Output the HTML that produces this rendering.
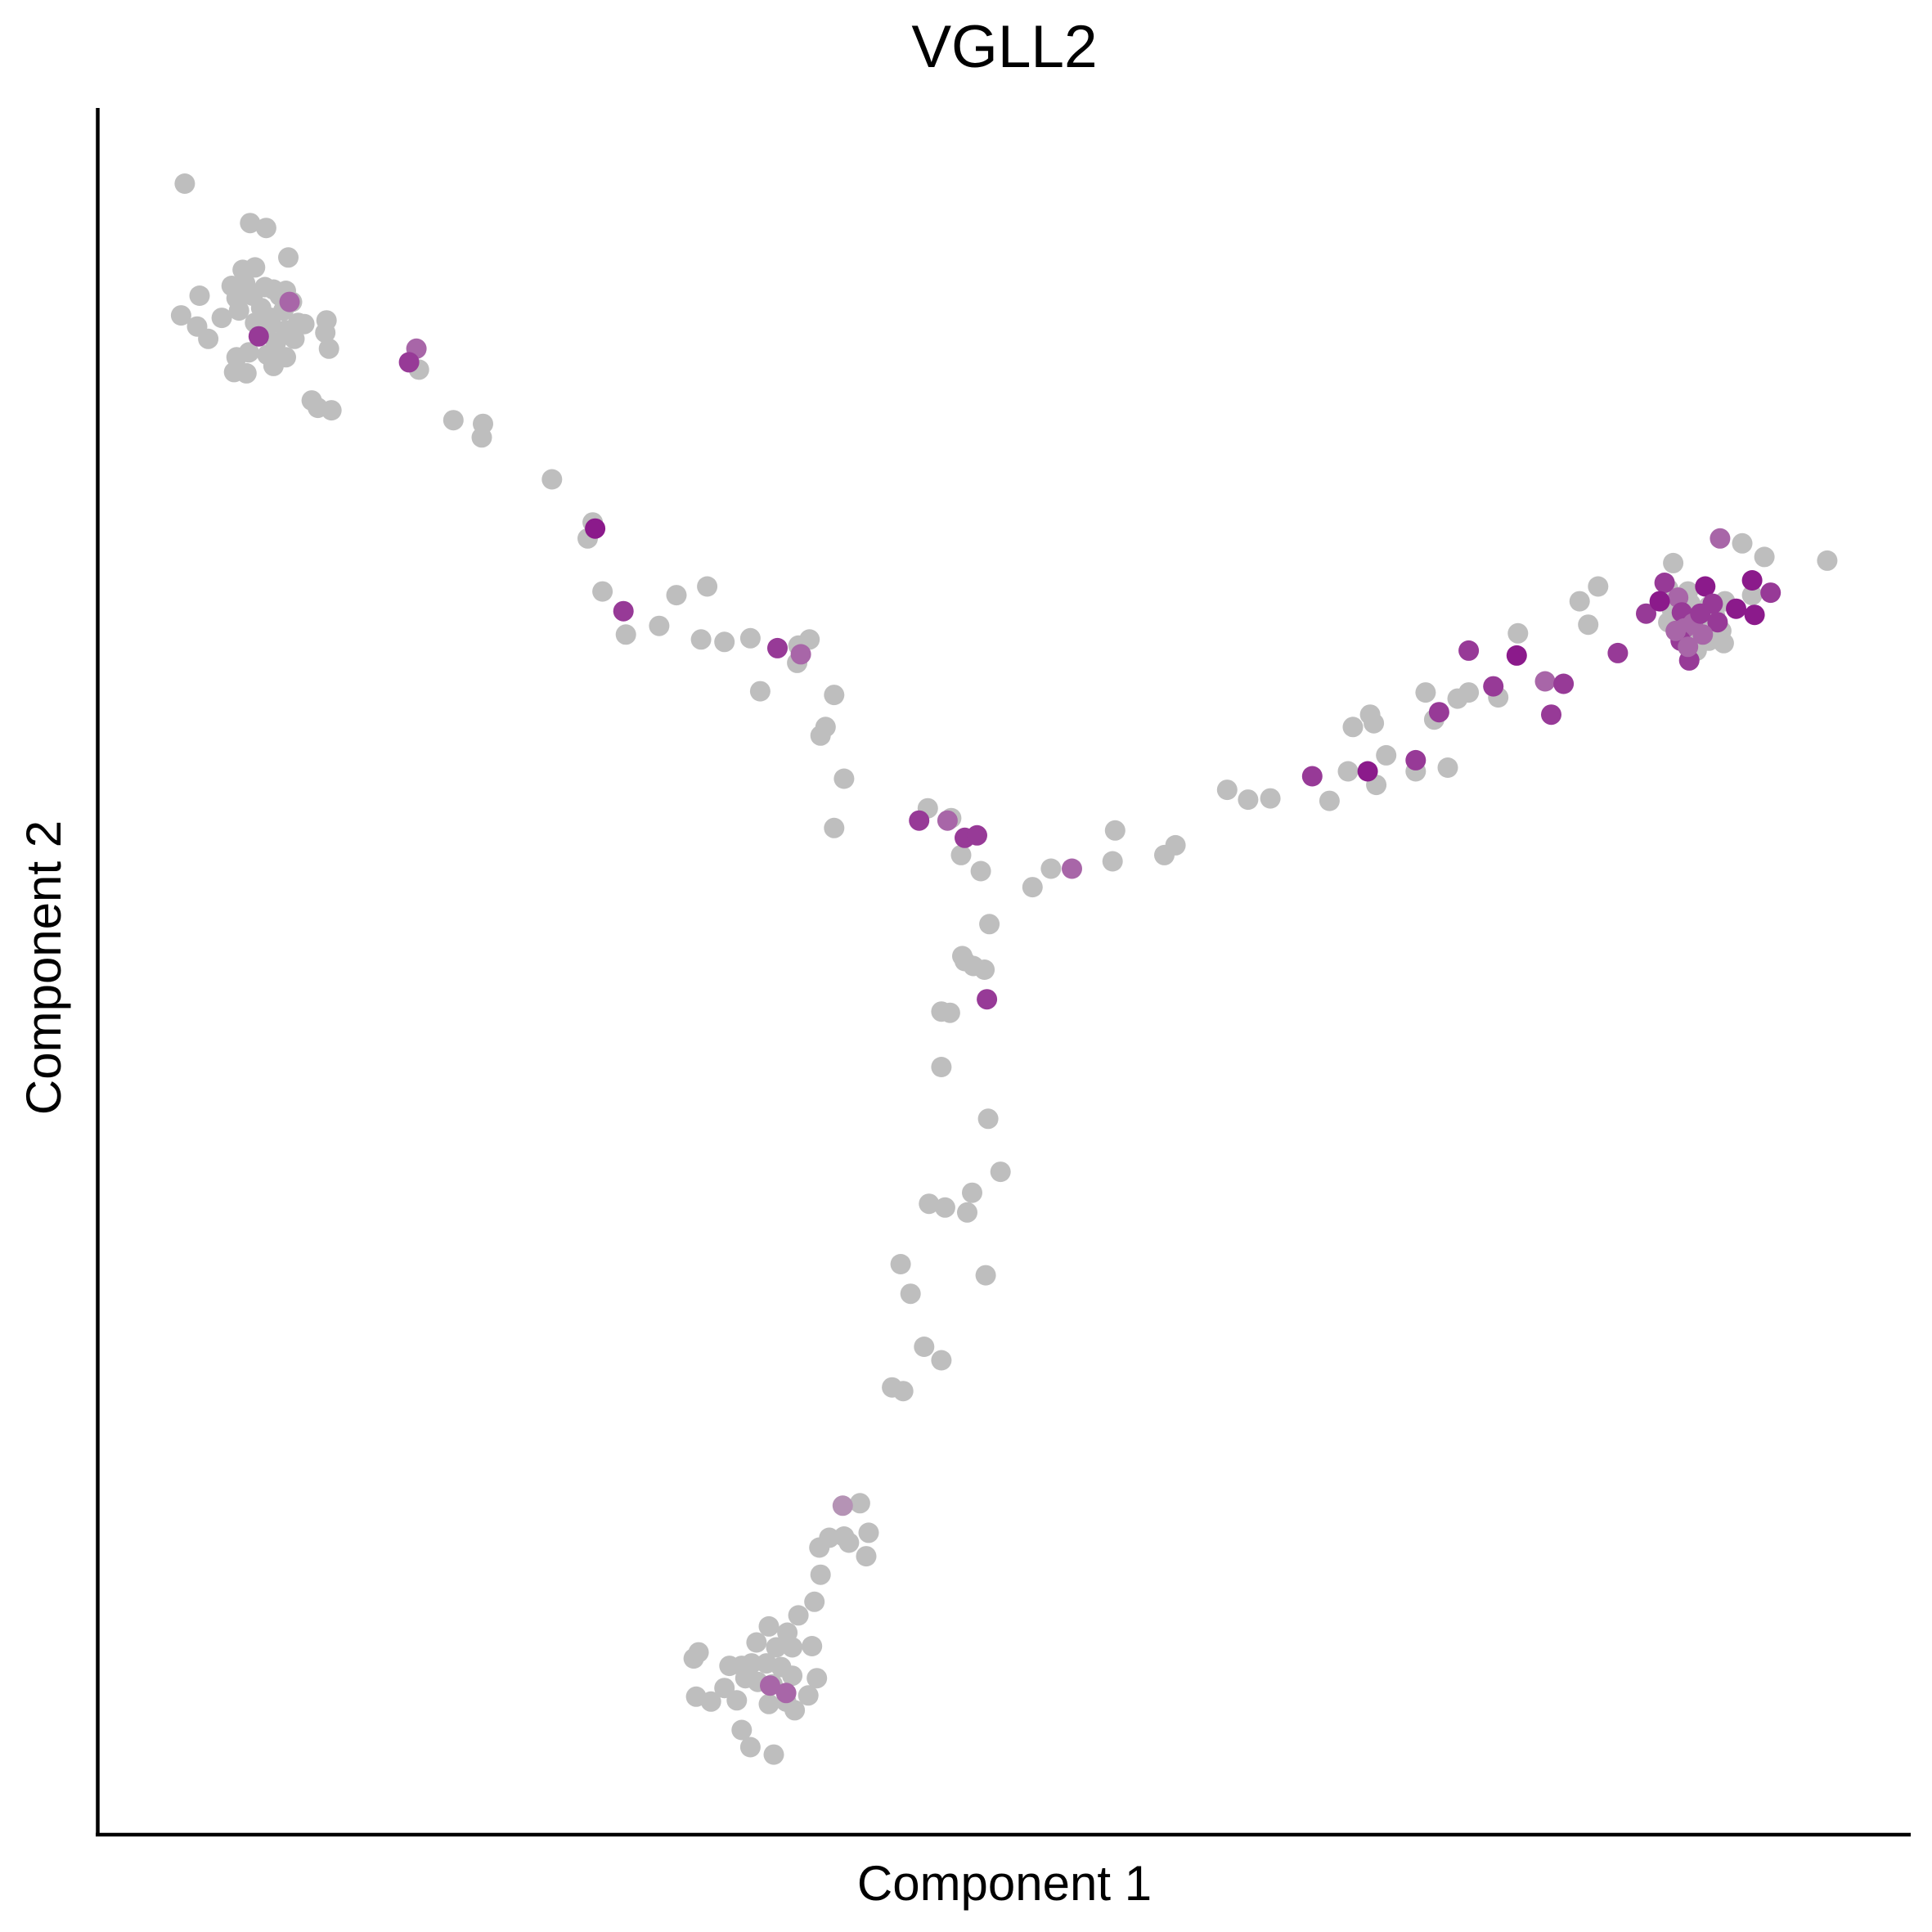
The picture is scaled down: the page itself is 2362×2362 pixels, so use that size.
<!DOCTYPE html>
<html>
<head>
<meta charset="utf-8">
<style>
html,body{margin:0;padding:0;background:#fff;}
svg{display:block;font-family:"Liberation Sans",Arial,sans-serif;}
</style>
</head>
<body>
<svg id="chart" width="2362" height="2362" viewBox="0 0 2362 2362" xmlns="http://www.w3.org/2000/svg">
  <rect width="2362" height="2362" fill="#fff"/>
  <text x="1228" y="82" font-size="73" text-anchor="middle" fill="#000">VGLL2</text>
  <line x1="119.5" y1="132" x2="119.5" y2="2245" stroke="#000" stroke-width="4.5"/>
  <line x1="117" y1="2243" x2="2336" y2="2243" stroke="#000" stroke-width="4.5"/>
  <text x="1228" y="2323" font-size="60" text-anchor="middle" fill="#000">Component 1</text>
  <text x="0" y="0" font-size="60" text-anchor="middle" fill="#000" transform="translate(74,1183) rotate(-90)">Component 2</text>
  <g id="points"></g>
</svg>
<script>
// Component 1 values (arbitrary units)
const comp1 = [148,201,214,232,195,205,186,197,213,220,230,160,190,203,225,235,145,178,192,210,218,228,240,263,158,167,205,215,230,245,262,222,237,265,190,200,215,230,188,198,220,251,256,267,233,208,
336,330,338,366,390,389,446,479,475,481,487,504,506,533,547,572,567,586,607,629,648,655,646,645,615,675,668,664,683,675,751,744,767,770,781,791,778,794,836,851,868,901,903,943,952,994,1011,1029,1063,1077,1092,1096,1110,1113,1108,1115,1123,1147,1147,1173,1155,1162,1166,1181,1190,1190,1214,1210,1229,1230,1252,1267,1257,1280,1287,1295,1311,1334,1356,1394,1412,1430,1481,1420,1435,1422,1407,
1352,1368,1370,1385,1398,1375,1390,1352,1380,1395,1370,1385,1397,1375,1420,1366,1355,1349,1360,1382,1345,1363,1365,1362,1369,1372,1388,1358,1378,1368,1392,1380,
801,779,781,788,797,799,762,769,762,800,810,787,752,765,783,798,729,737,748,762,722,731,682,696,703,671,683,687,663,701,664,659,646,622,637,565,561,612,628,641,657,590,600,608,620,632,603,613,625,641,661,586,623,636,563,575,596,622,636,654,643,600,607,626];
// Component 2 values (arbitrary units, larger = lower on screen)
const comp2 = [149,181,185,209,219,217,232,230,233,235,236,240,242,240,240,245,256,258,252,250,258,252,262,260,265,275,262,265,268,263,270,278,275,283,290,286,288,290,302,303,297,325,331,333,245,273,
283,294,300,341,344,355,389,424,437,429,480,496,515,508,483,476,519,521,518,526,531,519,524,538,561,564,590,597,632,672,656,666,666,664,680,678,694,707,720,705,705,699,674,694,686,641,649,648,630,650,626,590,580,587,626,637,613,617,626,623,562,584,578,567,562,528,566,557,532,514,553,555,580,488,507,476,530,498,457,437,441,452,455,471,481,499,494,
478,480,490,492,488,500,500,505,508,512,517,520,522,528,483,492,495,473,485,476,488,497,510,520,536,506,490,512,498,525,505,515,
750,776,780,784,787,811,821,822,866,908,951,968,977,980,984,1035,1026,1050,1093,1104,1126,1129,1222,1220,1244,1248,1247,1252,1256,1263,1278,1300,1311,1320,1325,1341,1346,1333,1337,1337,1336,1352,1352,1350,1350,1353,1362,1365,1367,1360,1362,1370,1368,1374,1377,1381,1380,1383,1381,1376,1388,1404,1418,1424];
// Expression level: 0 none, 1 low, 2 mid, 3 high, 4 faint
const expr = [0,0,0,0,0,0,0,0,0,0,0,0,0,0,0,0,0,0,0,0,0,0,0,0,0,0,0,0,0,0,0,0,0,0,0,0,0,0,0,0,0,0,0,0,1,2,
1,2,0,0,0,0,0,0,0,3,0,2,0,0,0,0,0,0,0,2,1,0,0,0,0,0,0,0,0,0,0,2,1,0,2,2,0,0,0,0,1,0,0,0,0,0,0,0,2,0,0,0,0,0,3,0,0,2,0,0,0,0,2,0,0,2,0,2,3,0,1,2,2,0,0,0,2,2,0,1,0,0,0,3,2,3,3,
0,0,0,0,0,0,0,0,0,0,0,0,0,0,0,0,0,2,1,3,3,2,1,2,2,1,2,1,2,1,2,1,
0,0,0,0,0,2,0,0,0,0,0,0,0,0,0,0,0,0,0,0,0,0,4,0,0,0,0,0,0,0,0,0,0,0,0,0,0,0,0,0,0,0,0,0,0,0,0,0,0,0,0,0,1,1,0,0,0,0,0,0,0,0,0,0];

const S = 2362/1568;
function xScale(v){ return 3 + v*S; }
function yScale(v){ return v*S; }
function colorFor(e){ return ['#bebebe','#a866a8','#973a97','#8b1a8b','#b593b5'][e]; }

const g = document.getElementById('points');
const order = comp1.map((_,i)=>i).sort((a,b)=>expr[a]===0?-1:(expr[b]===0?1:0));
order.forEach(i=>{
  const c = document.createElementNS('http://www.w3.org/2000/svg','circle');
  c.setAttribute('cx', xScale(comp1[i]).toFixed(1));
  c.setAttribute('cy', yScale(comp2[i]).toFixed(1));
  c.setAttribute('r', 12.5);
  c.setAttribute('fill', colorFor(expr[i]));
  
  
  g.appendChild(c);
});
</script>
</body>
</html>
